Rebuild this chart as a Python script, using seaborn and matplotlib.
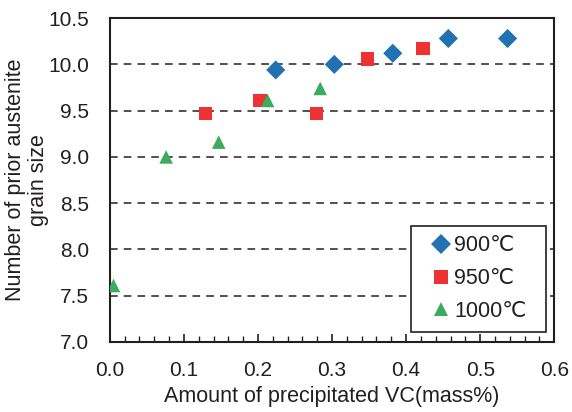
import numpy as np
import pandas as pd
import matplotlib
matplotlib.use("Agg")
import matplotlib.pyplot as plt
import seaborn as sns
from matplotlib.ticker import MultipleLocator, FormatStrFormatter

# 数据
vc_900 = [0.224, 0.303, 0.382, 0.457, 0.537]
gs_900 = [9.94, 10.00, 10.12, 10.28, 10.28]
vc_950 = [0.129, 0.203, 0.279, 0.348, 0.423]
gs_950 = [9.47, 9.61, 9.47, 10.06, 10.17]
vc_1000 = [0.005, 0.076, 0.147, 0.213, 0.284]
gs_1000 = [7.61, 9.00, 9.16, 9.61, 9.74]
temp_labels = ["900℃", "950℃", "1000℃"]

df = pd.DataFrame({
    "vc": vc_900 + vc_950 + vc_1000,
    "gs": gs_900 + gs_950 + gs_1000,
    "temp": [temp_labels[0]] * len(vc_900) + [temp_labels[1]] * len(vc_950) + [temp_labels[2]] * len(vc_1000),
})

sns.set_style("white")
plt.rcParams["font.family"] = ["Liberation Sans", "DejaVu Sans"]
ink = "#231F20"
fs = 15.5

fig = plt.figure(figsize=(5.72, 4.12), dpi=100)
ax = fig.add_axes([0.192, 0.170, 0.777, 0.786])

palette = {temp_labels[0]: "#2271B3", temp_labels[1]: "#EE3133", temp_labels[2]: "#3CAB5B"}
markers = {temp_labels[0]: "D", temp_labels[1]: "s", temp_labels[2]: "^"}
sns.scatterplot(data=df, x="vc", y="gs", hue="temp", style="temp", palette=palette,
                markers=markers, s=95, linewidth=0, ax=ax, zorder=3)

ax.set_xlim(0, 0.6)
ax.set_ylim(7.0, 10.5)
ax.xaxis.set_major_locator(MultipleLocator(0.1))
ax.xaxis.set_minor_locator(MultipleLocator(0.02))
ax.yaxis.set_major_locator(MultipleLocator(0.5))
ax.xaxis.set_major_formatter(FormatStrFormatter("%.1f"))
ax.yaxis.set_major_formatter(FormatStrFormatter("%.1f"))
ax.tick_params(axis="x", which="major", direction="in", length=6, width=1.2, color=ink,
               labelsize=15, pad=14, bottom=True)
ax.tick_params(axis="x", which="minor", direction="in", length=4, width=1.0, color=ink, bottom=True)
ax.tick_params(axis="y", which="major", length=0, labelsize=15, pad=15)

# 虚线网格
for yv in np.arange(7.5, 10.01, 0.5):
    ax.axhline(yv, color=ink, lw=1.1, ls=(0, (5, 4)), zorder=1)

for sp in ax.spines.values():
    sp.set_color(ink)
    sp.set_linewidth(1.5)
    sp.set_visible(True)

ax.set_xlabel("Amount of precipitated VC(mass%)", fontsize=fs, color=ink, labelpad=4)
ax.set_ylabel("Number of prior austenite\ngrain size", fontsize=fs, color=ink,
              linespacing=1.15)
ax.yaxis.set_label_coords(-0.136, 0.5)
for lab in ax.get_xticklabels() + ax.get_yticklabels():
    lab.set_color(ink)

handles, labels = ax.get_legend_handles_labels()
leg = ax.legend(handles, labels, loc="lower left", bbox_to_anchor=(0.677, 0.032, 0.305, 0.321),
                mode="expand", fontsize=fs, frameon=True, fancybox=False, framealpha=1.0,
                handlelength=1.93, handletextpad=-0.37, borderpad=0.45, labelspacing=0.55,
                borderaxespad=0)
leg.get_frame().set_edgecolor(ink)
leg.get_frame().set_linewidth(1.2)
leg.set_zorder(5)
for t in leg.get_texts():
    t.set_color(ink)

plt.savefig("out.png", dpi=100)
